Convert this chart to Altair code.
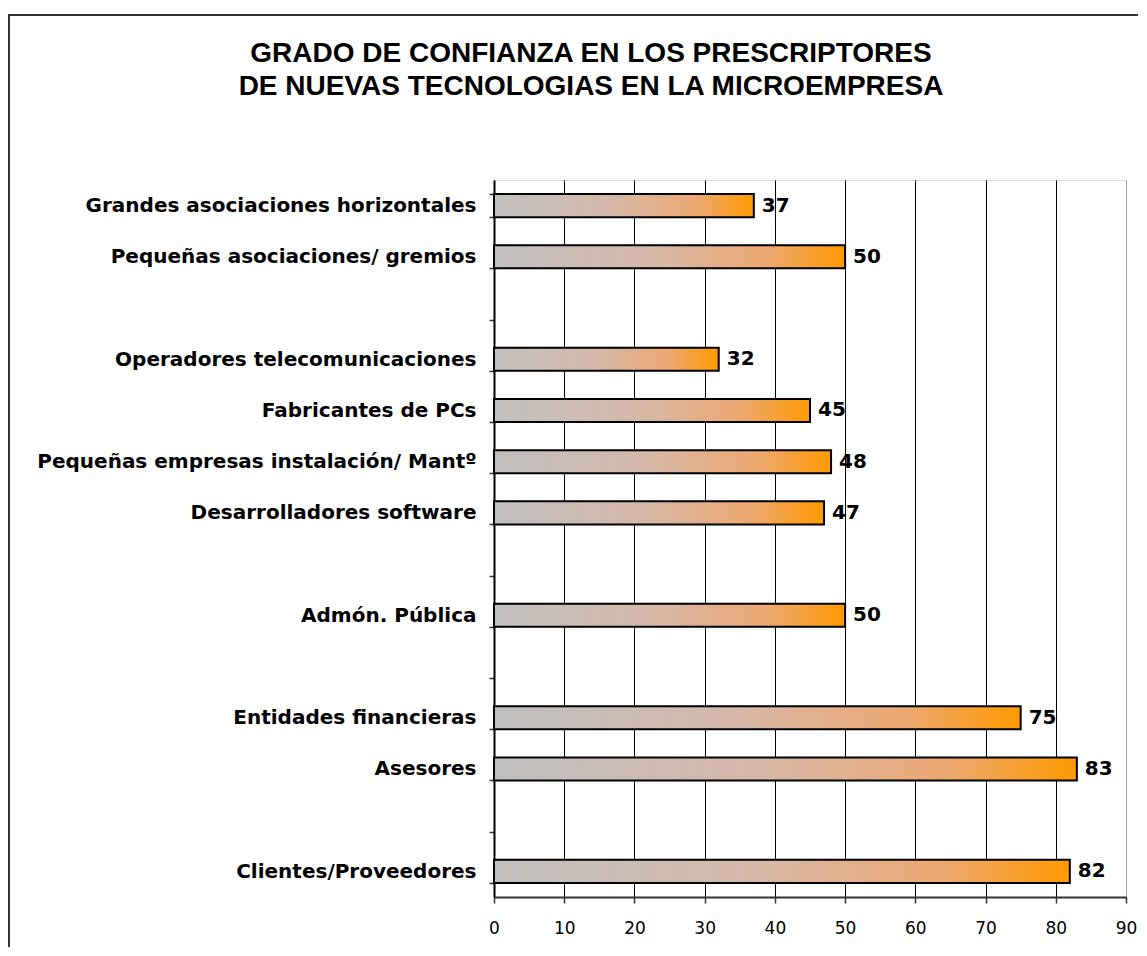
import altair as alt
import pandas as pd

categories = [
    "Grandes asociaciones horizontales",
    "Pequeñas asociaciones/ gremios",
    " ",
    "Operadores telecomunicaciones",
    "Fabricantes de PCs",
    "Pequeñas empresas instalación/ Mantº",
    "Desarrolladores software",
    "  ",
    "Admón. Pública",
    "   ",
    "Entidades financieras",
    "Asesores",
    "    ",
    "Clientes/Proveedores",
]
values = [37, 50, None, 32, 45, 48, 47, None, 50, None, 75, 83, None, 82]
x_ticks = [0, 10, 20, 30, 40, 50, 60, 70, 80, 90]
title_lines = [
    "GRADO DE CONFIANZA EN LOS PRESCRIPTORES",
    "DE NUEVAS TECNOLOGIAS EN LA MICROEMPRESA",
]

df = pd.DataFrame({"cat": categories, "val": values})

gradient = alt.Gradient(
    gradient="linear",
    stops=[
        alt.GradientStop(color="#C0C0C0", offset=0),
        alt.GradientStop(color="#D6B8A8", offset=0.45),
        alt.GradientStop(color="#EDA872", offset=0.78),
        alt.GradientStop(color="#FF9900", offset=1),
    ],
    x1=0, x2=1, y1=0, y2=0,
)

y_scale = alt.Scale(domain=categories, paddingInner=0.55, paddingOuter=0.275)

y_enc = alt.Y(
    "cat:N",
    sort=categories,
    scale=y_scale,
    axis=alt.Axis(
        title=None,
        tickBand="extent",
        labelFont="DejaVu Sans",
        labelFontWeight="bold",
        labelFontSize=20,
        labelColor="black",
        labelPadding=13,
        labelLimit=0,
        tickSize=5,
        tickColor="#333333",
        tickWidth=1.5,
        domainColor="black",
        domainWidth=2,
        grid=False,
    ),
)

x_enc = alt.X(
    "val:Q",
    scale=alt.Scale(domain=[0, 90], nice=False, zero=True),
    axis=alt.Axis(
        title=None,
        values=x_ticks,
        grid=True,
        gridColor={"condition": {"test": "datum.value >= 90", "value": "#999999"}, "value": "black"},
        gridWidth=1,
        tickSize=6,
        tickColor="#333333",
        tickWidth=1.5,
        domainColor="#333333",
        domainWidth=2,
        labelFont="DejaVu Sans",
        labelFontSize=17,
        labelColor="black",
        labelPadding=17,
        labelFlush=False,
    ),
)

frame = alt.Chart(pd.DataFrame({"k": [0]})).mark_rect(
    filled=False, stroke="#333333", strokeWidth=2
).encode(
    x=alt.value(-485), x2=alt.value(700), y=alt.value(-165), y2=alt.value(900)
)

bars = alt.Chart(df).mark_bar(fill=gradient, stroke="black", strokeWidth=2).encode(
    x=x_enc, y=y_enc
)

labels = alt.Chart(df).transform_filter("isValid(datum.val)").mark_text(
    align="left", baseline="middle", dx=8, font="DejaVu Sans", fontWeight="bold",
    fontSize=20, color="black"
).encode(
    x=alt.X("val:Q"),
    y=alt.Y("cat:N", sort=categories),
    text=alt.Text("val:Q"),
)

chart = alt.layer(frame, bars, labels).properties(
    width=632,
    height=717,
    autosize=alt.AutoSizeParams(type="none"),
    padding={"left": 486, "top": 172, "right": 12, "bottom": 50},
    title=alt.TitleParams(
        text=title_lines,
        font="Liberation Sans",
        fontSize=28,
        fontWeight="bold",
        color="black",
        anchor="middle",
        dx=-219,
        offset=0,
        dy=87,
        lineHeight=33,
    ),
).configure_view(stroke="#999999", strokeWidth=1).configure(background="white")

chart.save("out.html", embed_options={"renderer": "svg", "actions": False})
